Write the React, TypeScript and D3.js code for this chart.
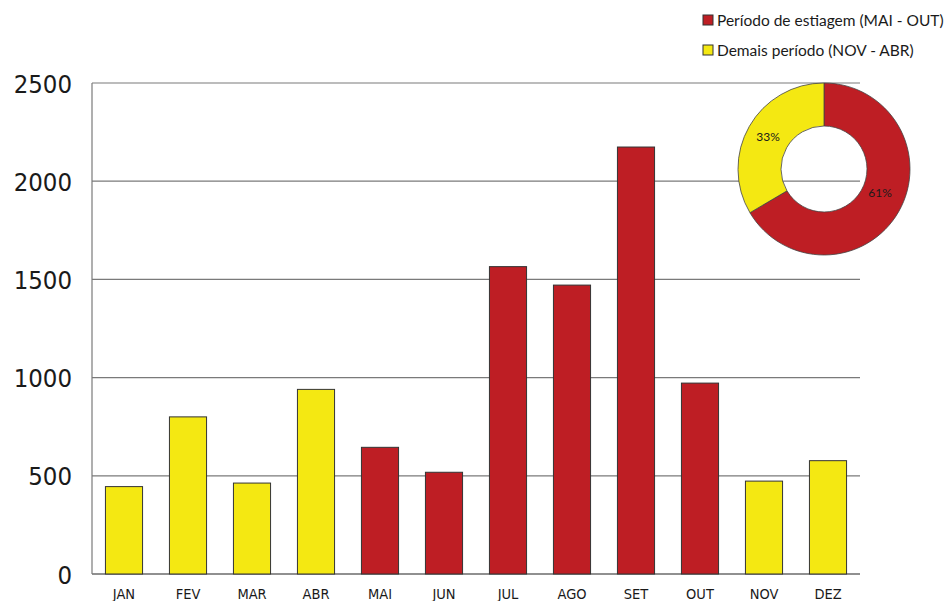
import React from "react";
import * as d3 from "d3";

const months = ["JAN", "FEV", "MAR", "ABR", "MAI", "JUN", "JUL", "AGO", "SET", "OUT", "NOV", "DEZ"];
const values = [445, 800, 463, 940, 645, 518, 1565, 1471, 2174, 972, 473, 577];
const dryMonths = ["MAI", "JUN", "JUL", "AGO", "SET", "OUT"];
const yTicks = [0, 500, 1000, 1500, 2000, 2500];
const legendLabels = ["Período de estiagem (MAI - OUT)", "Demais período (NOV - ABR)"];
const pieLabels = ["61%", "33%"];

const RED = "#BE1E24";
const YELLOW = "#F4E812";
const W = 948;
const H = 601;

export default function App() {
  const left = 92, right = 860, top = 83, bottom = 574;
  const x = d3.scaleBand<string>().domain(months).range([left, right]).paddingInner(0.42).paddingOuter(0.21);
  const y = d3.scaleLinear().domain([0, 2500]).range([bottom, top]);

  const drySum = d3.sum(months.filter((m) => dryMonths.includes(m)).map((m) => values[months.indexOf(m)]));
  const otherSum = d3.sum(months.filter((m) => !dryMonths.includes(m)).map((m) => values[months.indexOf(m)]));
  const pieData = [drySum, otherSum];
  const pie = d3.pie<number>().sort(null).value((d) => d);
  const arcs = pie(pieData);
  const arc = d3.arc<d3.PieArcDatum<number>>().innerRadius(43).outerRadius(86);
  const cx = 824, cy = 169;

  const axisFont = "'DejaVu Sans Condensed', 'DejaVu Sans', sans-serif";
  const legendFont = "Lato, 'Open Sans', sans-serif";

  return (
    <svg width={W} height={H} style={{ position: "absolute", left: 0, top: 0, background: "#fff" }}>
      {yTicks.map((t) => (
        <line key={"g" + t} x1={left} x2={right} y1={y(t)} y2={y(t)} stroke={t === 0 ? "#222" : "#7a7a7a"} strokeWidth={1.2} />
      ))}
      <line x1={left} x2={left} y1={top} y2={bottom} stroke="#7a7a7a" strokeWidth={1.2} />
      {yTicks.map((t) => (
        <text key={"t" + t} x={72} y={y(t)} dy="0.38em" textAnchor="end" fontFamily={axisFont} fontSize={25.5} fill="#1a1a1a">
          {t}
        </text>
      ))}
      {months.map((m, i) => (
        <rect
          key={m}
          x={x(m)}
          y={y(values[i])}
          width={x.bandwidth()}
          height={bottom - y(values[i])}
          fill={dryMonths.includes(m) ? RED : YELLOW}
          stroke="#333"
          strokeWidth={1}
        />
      ))}
      {months.map((m) => (
        <text key={"l" + m} x={(x(m) as number) + x.bandwidth() / 2} y={599} textAnchor="middle" fontFamily={axisFont} fontSize={14.5} fill="#1a1a1a">
          {m}
        </text>
      ))}
      <g transform={`translate(${cx},${cy})`}>
        {arcs.map((a, i) => (
          <path key={"a" + i} d={arc(a) as string} fill={i === 0 ? RED : YELLOW} stroke="#444" strokeWidth={0.8} />
        ))}
        {arcs.map((a, i) => {
          const [px, py] = arc.centroid(a);
          return (
            <text key={"p" + i} x={px} y={py - (i === 0 ? 8 : 0)} textAnchor="middle" dy="0.35em" fontFamily={legendFont} fontSize={12} fill="#1a1a1a">
              {pieLabels[i]}
            </text>
          );
        })}
      </g>
      {legendLabels.map((l, i) => (
        <g key={"lg" + i} transform={`translate(703, ${15 + i * 30})`}>
          <rect x={0} y={0} width={10} height={10} fill={i === 0 ? RED : YELLOW} stroke="#333" strokeWidth={1} />
          <text x={14} y={10.5} fontFamily={legendFont} fontSize={15.5} fill="#1a1a1a">
            {l}
          </text>
        </g>
      ))}
    </svg>
  );
}
